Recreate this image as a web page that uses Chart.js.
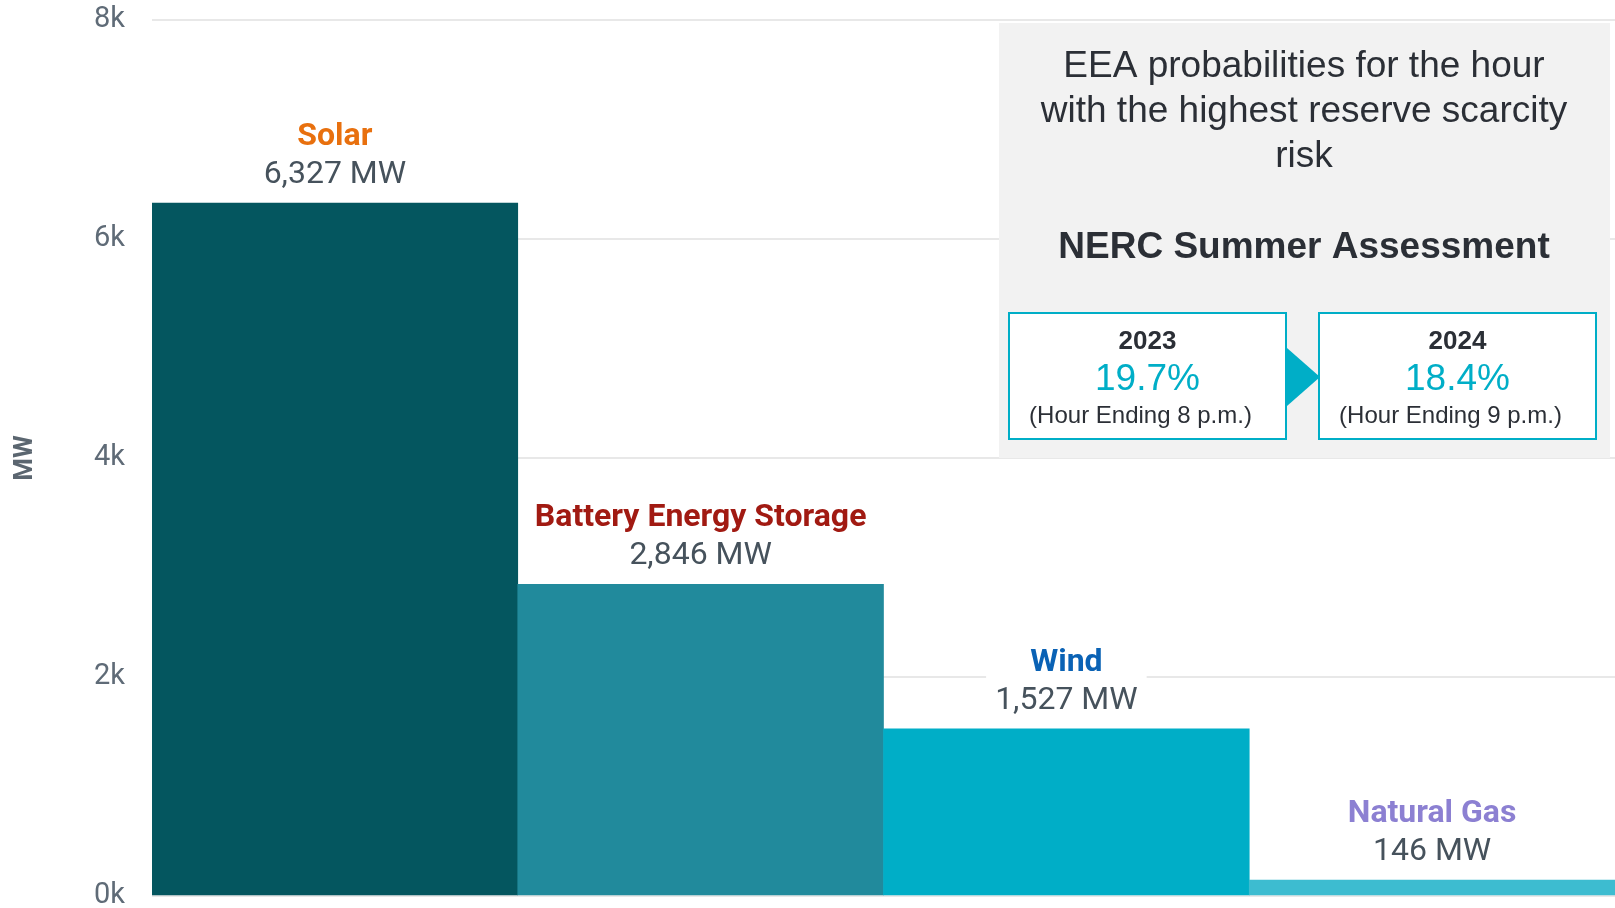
<!DOCTYPE html>
<html>
<head>
<meta charset="utf-8">
<script src="https://cdn.jsdelivr.net/npm/chart.js@4"></script>
<style>
  html, body { margin: 0; padding: 0; background: #fff; }
  #wrap { position: relative; width: 1615px; height: 908px; }
</style>
</head>
<body>
<div id="wrap"><canvas id="myChart"></canvas></div>
<script>
// --- data ---
const categories = ['Solar', 'Battery Energy Storage', 'Wind', 'Natural Gas'];
const capacityMW = [6327, 2846, 1527, 146];
const yTickValues = [0, 2000, 4000, 6000, 8000];
const barColors = ['#04565F', '#218A9C', '#00AEC7', '#3DBCD0'];
const labelColors = ['#E8700E', '#A11A12', '#0A62B5', '#8C80D2'];

const eeaTitle = ['EEA probabilities for the hour', 'with the highest reserve scarcity', 'risk'];
const eeaSubtitle = 'NERC Summer Assessment';
const eeaYears = ['2023', '2024'];
const eeaProbabilities = ['19.7%', '18.4%'];
const eeaHours = ['(Hour Ending 8 p.m.)', '(Hour Ending 9 p.m.)'];

// draws "Name / value MW" above each bar
const barLabels = {
    id: 'barLabels',
    afterDatasetsDraw(chart) {
        const ctx = chart.ctx;
        const meta = chart.getDatasetMeta(0);
        ctx.save();
        ctx.textAlign = 'center';
        ctx.textBaseline = 'middle';
        meta.data.forEach((bar, i) => {
            const valueText = capacityMW[i].toLocaleString('en-US') + ' MW';
            const yValue = bar.y - 28;
            const yName = yValue - 38;
            ctx.font = 'bold 32px Roboto';
            const w1 = ctx.measureText(categories[i]).width;
            ctx.font = '32px Roboto';
            const w2 = ctx.measureText(valueText).width;
            const w = Math.max(w1, w2) + 18;
            ctx.fillStyle = '#fff';
            ctx.fillRect(bar.x - w / 2, yName - 22, w, yValue - yName + 44);
            ctx.fillStyle = labelColors[i];
            ctx.font = 'bold 32px Roboto';
            ctx.fillText(categories[i], bar.x, yName);
            ctx.fillStyle = '#46525C';
            ctx.font = '32px Roboto';
            ctx.fillText(valueText, bar.x, yValue);
        });
        ctx.restore();
    }
};

// the grey EEA info panel in the top-right corner
const infoPanel = {
    id: 'infoPanel',
    afterDraw(chart) {
        const ctx = chart.ctx;
        ctx.save();
        ctx.fillStyle = '#F2F2F2';
        ctx.fillRect(999, 23, 611, 435);
        ctx.textAlign = 'center';
        ctx.textBaseline = 'middle';
        ctx.fillStyle = '#2B2F36';
        ctx.font = '37px "Liberation Sans"';
        eeaTitle.forEach((line, i) => ctx.fillText(line, 1304, 67 + i * 45));
        ctx.font = 'bold 37px "Liberation Sans"';
        ctx.fillText(eeaSubtitle, 1304, 248);

        const boxes = [1009, 1319];
        boxes.forEach((x, i) => {
            ctx.fillStyle = '#fff';
            ctx.fillRect(x, 313, 277, 126);
            ctx.strokeStyle = '#00AEC7';
            ctx.lineWidth = 2;
            ctx.strokeRect(x, 313, 277, 126);
            const cx = x + 138.5;
            ctx.fillStyle = '#2B2F36';
            ctx.font = 'bold 26px "Liberation Sans"';
            ctx.fillText(eeaYears[i], cx, 342);
            ctx.fillStyle = '#00AEC7';
            ctx.font = '37px "Liberation Sans"';
            ctx.fillText(eeaProbabilities[i], cx, 380);
            ctx.fillStyle = '#2B2F36';
            ctx.font = '24px "Liberation Sans"';
            ctx.fillText(eeaHours[i], cx - 7, 416);
        });
        // arrow between the two boxes
        ctx.fillStyle = '#00AEC7';
        ctx.beginPath();
        ctx.moveTo(1287, 348);
        ctx.lineTo(1320, 377);
        ctx.lineTo(1287, 406);
        ctx.closePath();
        ctx.fill();
        ctx.restore();
    }
};

function renderChart() {
    const ctx = document.getElementById('myChart').getContext('2d');
    const chartConfig = {
        type: 'bar',
        data: {
            labels: categories,
            datasets: [{
                data: capacityMW,
                backgroundColor: barColors,
                borderWidth: 0,
                barPercentage: 1,
                categoryPercentage: 1
            }]
        },
        options: {
            responsive: true,
            maintainAspectRatio: false,
            devicePixelRatio: 1,
            animation: false,
            layout: { padding: { top: 20, bottom: 12, left: 0, right: 0 } },
            plugins: {
                legend: { display: false },
                tooltip: { enabled: false }
            },
            scales: {
                x: { display: false },
                y: {
                    min: 0,
                    max: 8000,
                    afterFit(scale) {
                        scale.width = 152;
                        scale.paddingTop = 0;
                        scale.paddingBottom = 0;
                    },
                    afterBuildTicks(scale) {
                        scale.ticks = yTickValues.map(v => ({ value: v }));
                    },
                    ticks: {
                        padding: 27,
                        color: '#5F6B77',
                        font: { family: 'Roboto', size: 29 },
                        callback: v => (v / 1000) + 'k'
                    },
                    grid: { color: '#E8E8E8', lineWidth: 2, drawTicks: false },
                    border: { display: false },
                    title: {
                        display: true,
                        text: 'MW',
                        color: '#5B6670',
                        font: { family: 'Roboto', size: 26, weight: 'bold' },
                        padding: { top: 10, bottom: 0 }
                    }
                }
            }
        },
        plugins: [barLabels, infoPanel]
    };
    new Chart(ctx, chartConfig);
}

renderChart();
</script>
</body>
</html>
